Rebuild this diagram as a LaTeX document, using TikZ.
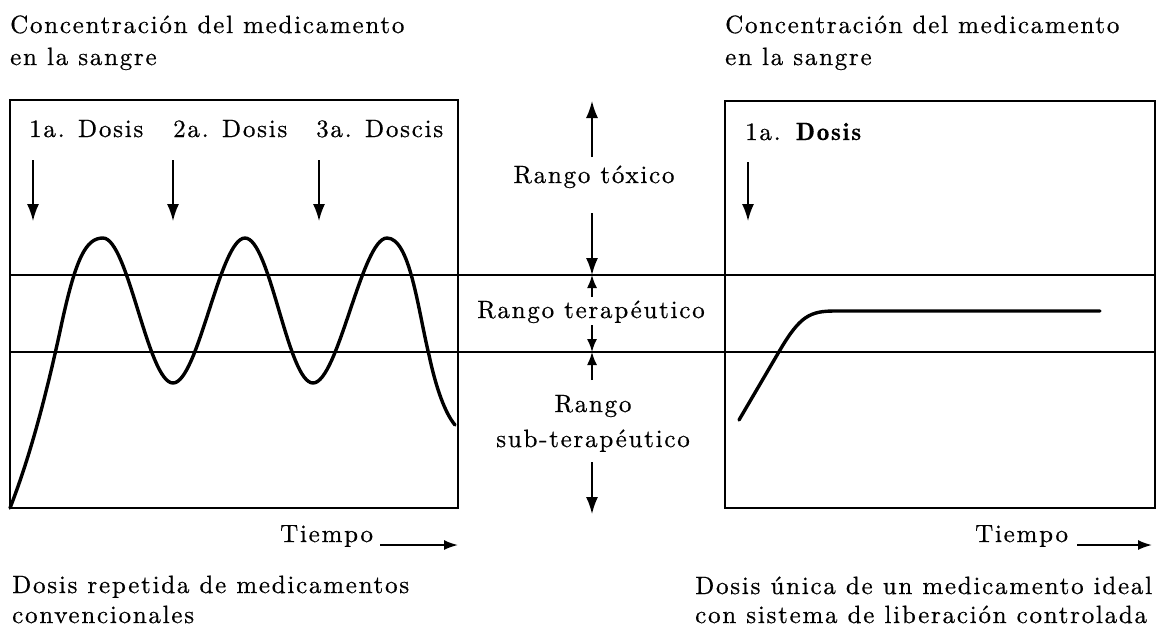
\documentclass[tikz,border=0pt]{standalone}
\usepackage{fontspec}
\setmainfont{lmroman10-regular.otf}[BoldFont=lmromandemi10-regular.otf]
\newfontfamily\spaced{lmroman10-regular.otf}[LetterSpace=7,FakeBold=0.6,BoldFont=lmromandemi10-regular.otf,BoldFeatures={FakeBold=0.6}]
\usetikzlibrary{arrows.meta}
\tikzset{
 txt/.style={inner sep=0pt, font=\spaced\fontsize{25}{33}\selectfont},
 frame/.style={line width=2.6pt},
 level/.style={line width=1.5pt},
 curve/.style={line width=3.4pt, line cap=round, line join=round},
 arr/.style={line width=1.6pt, -{Latex[length=17pt,width=12pt]}},
 tarr/.style={line width=1.6pt, -{Latex[length=13pt,width=10pt]}},
 tarrow/.style={line width=1.8pt, -{Latex[length=14pt,width=10pt]}},
}
\begin{document}
\begin{tikzpicture}[x=1pt,y=-1pt]
\useasboundingbox (0,0) rectangle (1172,630);
% titles
\node[txt,anchor=base west] (tl1) at (10,33) {Concentración del medicamento};
\node[txt,anchor=base west] (tl2) at (10,65) {en la sangre};
\node[txt,anchor=base west] (tr1) at (725,33) {Concentración del medicamento};
\node[txt,anchor=base west] (tr2) at (725,65) {en la sangre};
% frames and levels
\draw[frame] (10,100) rectangle (458,508);
\draw[frame] (725,101) rectangle (1155,508);
\coordinate (l1a) at (10,275); \coordinate (l1b) at (1155,275);
\coordinate (l2a) at (10,352); \coordinate (l2b) at (1155,352);
\draw[level] (l1a) -- (l1b);
\draw[level] (l2a) -- (l2b);
% dose labels left
\node[txt,anchor=base west] (d1) at (29,137) {1a. Dosis};
\node[txt,anchor=base west] (d2) at (173,137) {2a. Dosis};
\node[txt,anchor=base west] (d3) at (316,137) {3a. Doscis};
\coordinate (a1s) at (33,160); \coordinate (a1e) at (33,221);
\coordinate (a2s) at (173,160); \coordinate (a2e) at (173,221);
\coordinate (a3s) at (319,160); \coordinate (a3e) at (319,221);
\draw[arr] (a1s) -- (a1e);
\draw[arr] (a2s) -- (a2e);
\draw[arr] (a3s) -- (a3e);
% left curve
\draw[curve] (10,508) .. controls (28,462) and (45,402) .. (62,322)
  .. controls (76,258) and (86,238) .. (103,238)
  .. controls (128,238) and (148,383) .. (173,383)
  .. controls (198,383) and (220,238) .. (245,238)
  .. controls (270,238) and (288,383) .. (313,383)
  .. controls (338,383) and (362,238) .. (387,238)
  .. controls (410,238) and (418,310) .. (429,355)
  .. controls (436,388) and (445,413) .. (455,425);
% middle labels
\node[txt,anchor=base] (rt) at (594,183) {Rango tóxico};
\node[txt,anchor=base] (rte) at (591,318) {Rango terapéutico};
\node[txt,anchor=base] (rs1) at (593,412) {Rango};
\node[txt,anchor=base] (rs2) at (593,447) {sub-terapéutico};
\coordinate (m1s) at (592,157); \coordinate (m1e) at (592,101);
\coordinate (m2s) at (592,213); \coordinate (m2e) at (592,275);
\coordinate (m3s) at (592,297); \coordinate (m3e) at (592,275);
\coordinate (m4s) at (592,325); \coordinate (m4e) at (592,352);
\coordinate (m5s) at (592,380); \coordinate (m5e) at (592,352);
\coordinate (m6s) at (592,462); \coordinate (m6e) at (592,514);
\draw[arr] (m1s) -- (m1e);
\draw[arr] (m2s) -- (m2e);
\draw[tarr] (m3s) -- (m3e);
\draw[tarr] (m4s) -- (m4e);
\draw[tarr] (m5s) -- (m5e);
\draw[arr] (m6s) -- (m6e);
% right box
\node[txt,anchor=base west] (rd1) at (745,140) {1a. \textbf{Dosis}};
\coordinate (ra1s) at (748,162); \coordinate (ra1e) at (748,221);
\draw[arr] (ra1s) -- (ra1e);
\draw[curve] (739,420) -- (780,350) .. controls (800,316) and (810,311) .. (835,311) -- (1100,311);
% time axes
\node[txt,anchor=base west] (t1) at (280,542) {Tiempo};
\coordinate (ta1s) at (380,545); \coordinate (ta1e) at (458,545);
\draw[tarrow] (ta1s) -- (ta1e);
\node[txt,anchor=base west] (t2) at (975,542) {Tiempo};
\coordinate (ta2s) at (1077,545); \coordinate (ta2e) at (1152,545);
\draw[tarrow] (ta2s) -- (ta2e);
% captions
\node[txt,anchor=base west] (c1) at (12,593) {Dosis repetida de medicamentos};
\node[txt,anchor=base west] (c2) at (12,623) {convencionales};
\node[txt,anchor=base west] (c3) at (695,594) {Dosis única de un medicamento ideal};
\node[txt,anchor=base west] (c4) at (695,623) {con sistema de liberación controlada};
\end{tikzpicture}
\end{document}
